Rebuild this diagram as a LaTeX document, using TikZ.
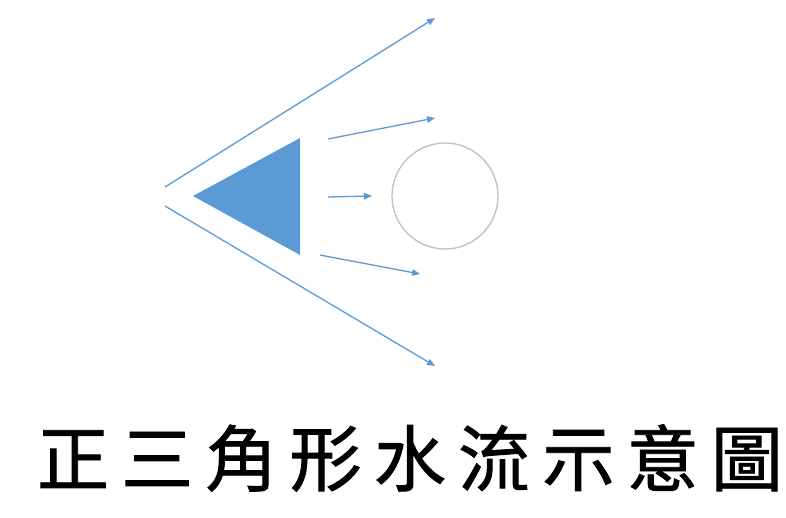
\documentclass[tikz,border=0pt]{standalone}
\usepackage{fontspec}
\newfontfamily\cjk[LetterSpace=17,FakeBold=1.2]{Noto Sans CJK TC}
\usetikzlibrary{arrows.meta}
\definecolor{flowblue}{HTML}{5B9BD5}
\definecolor{circgray}{HTML}{BFBFBF}
\tikzset{
  flow/.style={draw=flowblue, line width=1.3pt, -{Triangle[length=8pt,width=6.5pt]}},
}
\begin{document}
\begin{tikzpicture}[x=1pt,y=-1pt]
\useasboundingbox (0,0) rectangle (786,518);
% triangle
\coordinate (tA) at (193,196);
\coordinate (tB) at (300,138);
\coordinate (tC) at (300,255);
\fill[flowblue] (tA) -- (tB) -- (tC) -- cycle;
% circle
\node[draw=circgray, line width=1.3pt, circle, minimum size=106pt, inner sep=0pt] (obj) at (445,196) {};
% coordinates for arrows
\coordinate (s1) at (165,187);
\coordinate (e1) at (435,18);
\coordinate (s2) at (165,206);
\coordinate (e2) at (435,366);
\coordinate (s3) at (328,139);
\coordinate (e3) at (435,118);
\coordinate (s4) at (328,197);
\coordinate (e4) at (372,196);
\coordinate (s5) at (320,255);
\coordinate (e5) at (420,274);
\draw[flow] (s1) -- (e1);
\draw[flow] (s2) -- (e2);
\draw[flow] (s3) -- (e3);
\draw[flow] (s4) -- (e4);
\draw[flow] (s5) -- (e5);
% title
\node[font=\cjk\fontsize{72}{76}\selectfont, inner sep=0pt] (title) at (410,458) {正三角形水流示意圖};
\end{tikzpicture}
\end{document}
